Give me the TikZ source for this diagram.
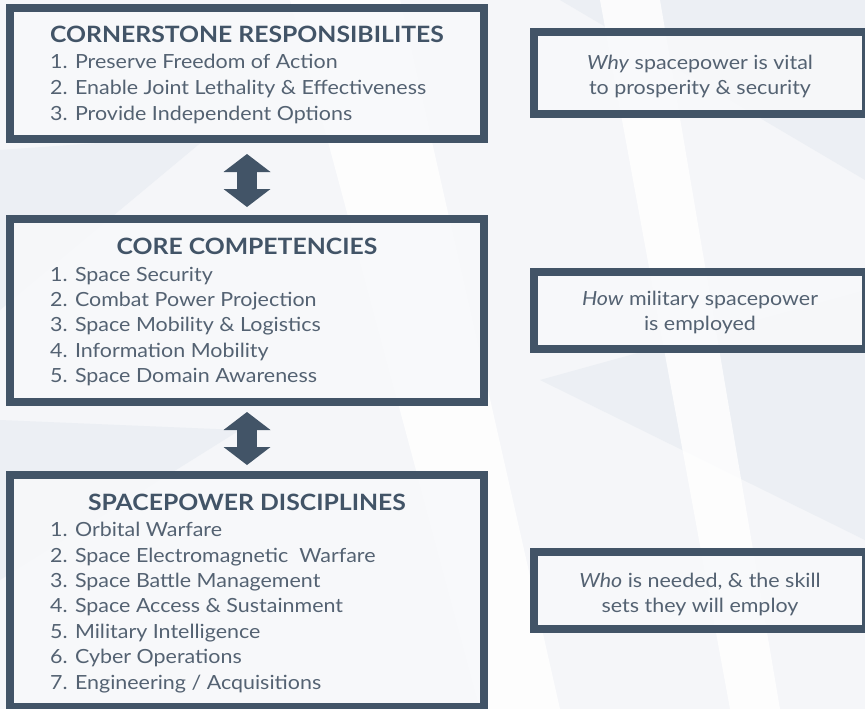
\documentclass[tikz,border=0pt]{standalone}
\usepackage{fontspec}
\setmainfont{Lato}[FakeStretch=1.1]
\usetikzlibrary{arrows.meta}

\definecolor{slate}{RGB}{66,84,103}
\definecolor{inktext}{RGB}{84,98,114}
\definecolor{paper}{RGB}{245,246,249}
\definecolor{facet}{RGB}{236,239,244}
\definecolor{boxfill}{RGB}{248,249,251}

\tikzstyle{bigbox}=[draw=slate, line width=8pt, fill=boxfill, fill opacity=0.85, inner sep=0pt, minimum width=474pt]
\tikzstyle{notebox}=[bigbox, minimum width=332pt, minimum height=77pt]
\tikzstyle{heading}=[anchor=base, inner sep=0pt, text=slate, font=\fontsize{22.5}{26}\selectfont\bfseries]
\tikzstyle{item}=[anchor=base west, inner sep=0pt, text=inktext, font=\fontsize{19.5}{24}\selectfont]
\tikzstyle{note}=[anchor=base, inner sep=0pt, text=inktext, font=\fontsize{19.5}{24}\selectfont]
\tikzstyle{updown}=[draw=slate, line width=20pt, {Triangle[width=47pt, length=18pt, line width=0pt]}-{Triangle[width=47pt, length=18pt, line width=0pt]}]

\begin{document}
\begin{tikzpicture}[x=1pt, y=-1pt]
      \useasboundingbox (0,0) rectangle (865,709);
      % faint faceted backdrop
      \fill[paper] (0,0) rectangle (865,709);
      \fill[facet] (0,150) -- (210,135) -- (0,310) -- cycle;
      \fill[facet] (0,420) -- (240,430) -- (0,580) -- cycle;
      \fill[facet] (540,380) -- (865,290) -- (865,540) -- cycle;
      \fill[facet] (560,0) -- (865,0) -- (865,180) -- cycle;
      \fill[white, opacity=0.8] (290,0) -- (400,0) -- (560,709) -- (480,709) -- cycle;
      \fill[white, opacity=0.8] (600,0) -- (660,0) -- (780,709) -- (730,709) -- cycle;

      % left column
      \node[bigbox, minimum height=131pt] (cr) at (247,73.5) {};
      \node[bigbox, minimum height=183pt] (cc) at (247,310.5) {};
      \node[bigbox, minimum height=232pt] (sd) at (247,591) {};

      \node[heading] (crh) at (247,43) {CORNERSTONE RESPONSIBILITES};
      \node[item] (cr1) at (50,69) {1. Preserve Freedom of Action};
      \node[item] (cr2) at (50,95) {2. Enable Joint Lethality \& Effectiveness};
      \node[item] (cr3) at (50,120) {3. Provide Independent Options};

      \node[heading] (cch) at (247,254) {CORE COMPETENCIES};
      \node[item] (cc1) at (50,281) {1. Space Security};
      \node[item] (cc2) at (50,306) {2. Combat Power Projection};
      \node[item] (cc3) at (50,331) {3. Space Mobility \& Logistics};
      \node[item] (cc4) at (50,357) {4. Information Mobility};
      \node[item] (cc5) at (50,382) {5. Space Domain Awareness};

      \node[heading] (sdh) at (247,510) {SPACEPOWER DISCIPLINES};
      \node[item] (sd1) at (50,536) {1. Orbital Warfare};
      \node[item] (sd2) at (50,562) {2. Space Electromagnetic\ \ Warfare};
      \node[item] (sd3) at (50,587) {3. Space Battle Management};
      \node[item] (sd4) at (50,612) {4. Space Access \& Sustainment};
      \node[item] (sd5) at (50,638) {5. Military Intelligence};
      \node[item] (sd6) at (50,663) {6. Cyber Operations};
      \node[item] (sd7) at (50,689) {7. Engineering / Acquisitions};

      \draw[updown, shorten <=11pt, shorten >=8pt] (cr.south) -- (cc.north);
      \draw[updown, shorten <=6pt, shorten >=6pt] (cc.south) -- (sd.north);

      % right column
      \node[notebox, minimum height=82pt] (why) at (700,73) {};
      \node[notebox] (how) at (700,310.5) {};
      \node[notebox] (who) at (700,590.5) {};

      \node[note] (why1) at (700,70) {\textit{Why} spacepower is vital};
      \node[note] (why2) at (700,95) {to prosperity \& security};
      \node[note] (how1) at (700,305) {\textit{How} military spacepower};
      \node[note] (how2) at (700,330) {is employed};
      \node[note] (who1) at (700,587) {\textit{Who} is needed, \& the skill};
      \node[note] (who2) at (700,612) {sets they will employ};
    \end{tikzpicture}
\end{document}
